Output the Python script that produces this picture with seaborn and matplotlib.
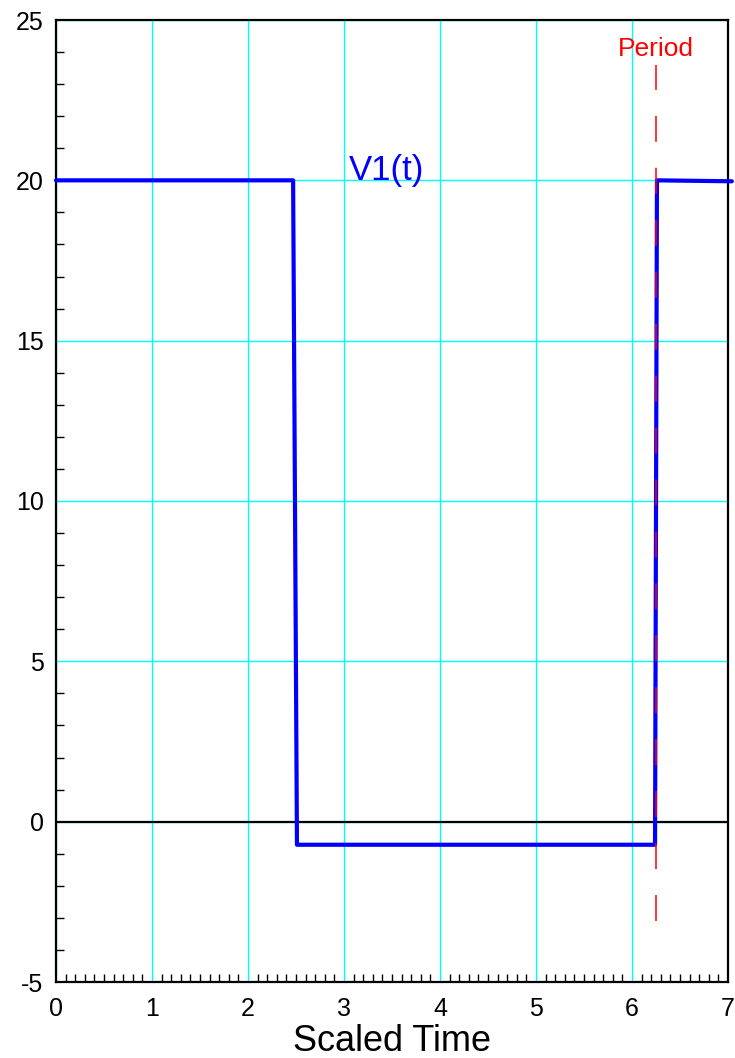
import seaborn as sns
import pandas as pd
import matplotlib.pyplot as plt
from matplotlib.ticker import MultipleLocator

# waveform V1(t)
time = [0.0, 2.47, 2.51, 6.24, 6.26, 7.04]
volts = [20.0, 20.0, -0.72, -0.72, 20.0, 19.97]
period = 6.25
x_ticks = [0, 1, 2, 3, 4, 5, 6, 7]
y_ticks = [-5, 0, 5, 10, 15, 20, 25]

df = pd.DataFrame({"time": time, "V1": volts})

sns.set_style("white")
plt.rcParams["font.family"] = ["Liberation Sans", "DejaVu Sans"]
plt.rcParams["axes.unicode_minus"] = False

fig = plt.figure(figsize=(7.35, 10.58), dpi=100)
ax = fig.add_axes([56 / 735, 76 / 1058, 672 / 735, 962 / 1058])

ax.set_xlim(0, 7)
ax.set_ylim(-5, 25)
ax.set_xticks(x_ticks)
ax.set_yticks(y_ticks)
ax.xaxis.set_minor_locator(MultipleLocator(0.1))
ax.yaxis.set_minor_locator(MultipleLocator(1))
ax.grid(True, which="major", color="#00ffff", linewidth=1)
ax.set_axisbelow(True)
ax.axhline(0, color="black", linewidth=1.6, zorder=2)

# period marker
ax.plot([period, period], [-3.1, 23.6], color="red", linestyle=(0, (17, 17)),
        linewidth=1.1, zorder=4)
ax.text(period, 24.1, "Period", color="red", fontsize=19, ha="center", va="center")

sns.lineplot(data=df, x="time", y="V1", sort=False, estimator=None,
             color="#0000ff", linewidth=3, ax=ax, zorder=3, clip_on=False)
ax.text(3.44, 20.3, "V1(t)", color="#0000ff", fontsize=25, ha="center", va="center")

ax.tick_params(which="both", direction="in", bottom=True, left=True,
               top=False, right=False, labelcolor="black")
ax.tick_params(which="major", length=0, labelsize=18)
ax.tick_params(axis="x", which="major", pad=11)
ax.tick_params(axis="y", which="major", pad=9)
ax.tick_params(which="minor", length=6, width=1, color="black")
for s in ax.spines.values():
    s.set_color("black")
    s.set_linewidth(1.6)

ax.set_xlabel("Scaled Time", fontsize=26, labelpad=2, color="black")
ax.set_ylabel("")

fig.savefig("out.png", dpi=100)
